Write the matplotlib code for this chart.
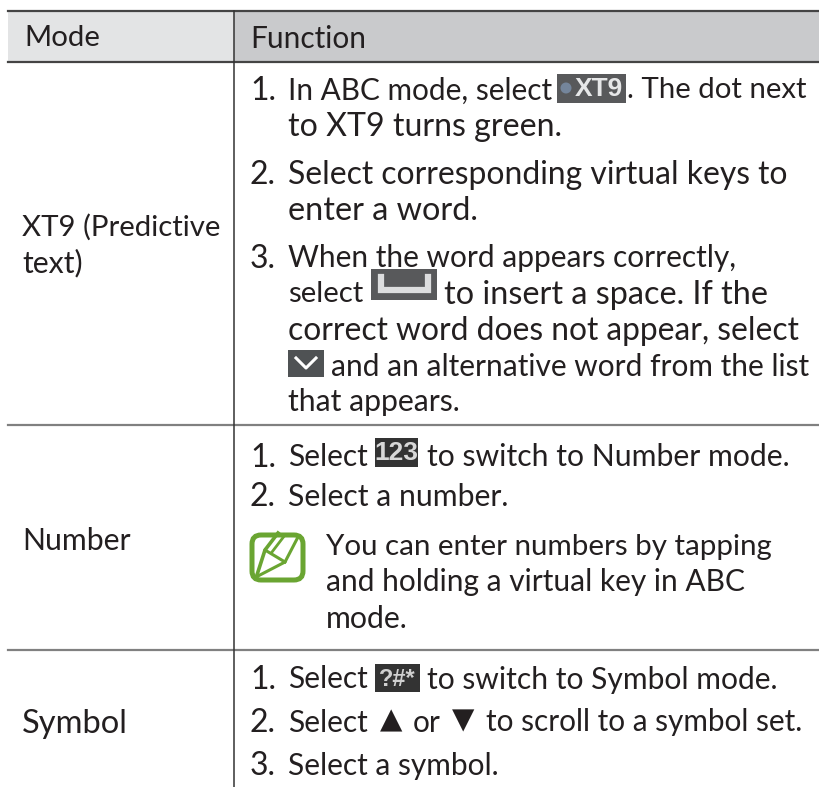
import matplotlib
matplotlib.use('Agg')
import matplotlib.pyplot as plt
from matplotlib.patches import Rectangle, FancyBboxPatch

headers = ['Mode', 'Function']
modes = ['XT9 (Predictive', 'text)', 'Number', 'Symbol']
xt9_lines = ['In ABC mode, select', '. The dot next', 'to XT9 turns green.',
             'Select corresponding virtual keys to', 'enter a word.',
             'When the word appears correctly,', 'select', 'to insert a space. If the',
             'correct word does not appear, select', 'and an alternative word from the list',
             'that appears.']
number_lines = ['Select', 'to switch to Number mode.', 'Select a number.']
note_lines = ['You can enter numbers by tapping', 'and holding a virtual key in ABC', 'mode.']
symbol_lines = ['Select', 'to switch to Symbol mode.', 'Select', 'or', 'to scroll to a symbol set.', 'Select a symbol.']

FONT = 'Lato'
SIZE = 23
INK = '#231f20'
GREEN = '#6aa532'

fig = plt.figure(figsize=(8.2, 7.87), dpi=100)
ax = fig.add_axes([0, 0, 1, 1])
ax.set_xlim(0, 820)
ax.set_ylim(787, 0)
ax.axis('off')
renderer = fig.canvas.get_renderer()


def txt(x, y, s, right=None):
    # right = where the line ends in the reference, size is nudged a little to fit it
    t = ax.text(x, y, s, family=FONT, fontsize=SIZE, color=INK, va='center_baseline')
    if right is not None:
        w = t.get_window_extent(renderer).width
        t.set_fontsize(SIZE * min(1.02, max(0.92, (right - x) / w)))
    return t


def key(x0, y0, x1, y1, color, label=None, fc='white', fs=15, cx=None):
    ax.add_patch(Rectangle((x0, y0), x1 - x0, y1 - y0, fc=color, ec='none', zorder=2))
    if label:
        if cx is None:
            cx = (x0 + x1) / 2
        ax.text(cx, (y0 + y1) / 2 + 1, label, color=fc, fontsize=fs, fontweight='bold',
                family='Liberation Sans', ha='center', va='center', zorder=3)


# header band and rules
ax.add_patch(Rectangle((8, 11), 226, 51, fc='#e3e4e5', ec='none'))
ax.add_patch(Rectangle((234, 11), 586, 51, fc='#c9cacc', ec='none'))
ax.plot([8, 820], [11, 11], color='#444444', lw=1.6)
ax.plot([8, 820], [62, 62], color='#444444', lw=1.6)
ax.plot([8, 820], [425, 425], color='#808080', lw=1.6)
ax.plot([8, 820], [650, 650], color='#808080', lw=1.6)
ax.plot([234, 234], [11, 787], color='#333333', lw=1.1)

txt(24, 36, headers[0], 100)
txt(250, 36, headers[1], 366)

# first column
txt(22, 225, modes[0], 217)
txt(22, 261, modes[1], 83)
txt(22, 538, modes[2], 131)
txt(22, 721, modes[3], 131)

# XT9 row
txt(250, 88, '1.')
txt(288, 88, xt9_lines[0], 552)
key(557, 74, 626, 103, '#58595b', 'XT9', '#e6e7e8', 19, cx=599)
ax.add_patch(plt.Circle((566, 88), 5.5, fc='#74859b', ec='none', zorder=3))
txt(627, 88, xt9_lines[1], 805)
txt(288, 124, xt9_lines[2], 563)
txt(250, 172, '2.')
txt(288, 172, xt9_lines[3], 790)
txt(288, 208, xt9_lines[4], 478)
txt(250, 256, '3.')
txt(288, 256, xt9_lines[5], 737)
txt(288, 292, xt9_lines[6], 362)
key(371, 269, 437, 300, '#58595b')
ax.plot([381, 381, 428, 428], [277, 290, 290, 277], color='#dcddde', lw=4.5, solid_joinstyle='miter', zorder=3)
txt(444, 292, xt9_lines[7], 769)
txt(288, 328, xt9_lines[8], 799)
key(288, 350, 324, 377, '#4f5254')
ax.plot([296, 306, 316], [358, 368, 358], color='white', lw=2.2, zorder=3)
txt(331, 364, xt9_lines[9], 809)
txt(288, 400, xt9_lines[10], 460)

# Number row
txt(250, 455, '1.')
txt(288, 455, number_lines[0], 368)
key(375, 438, 418, 467, '#333333', '123', '#d8d8d8', 19)
txt(427, 455, number_lines[1], 791)
txt(250, 494, '2.')
txt(288, 494, number_lines[2], 509)

# note icon
ax.add_patch(FancyBboxPatch((252, 535), 51, 45, boxstyle='round,pad=0,rounding_size=9',
                            fc='white', ec=GREEN, lw=3.6))
ax.plot([256, 265, 278], [578, 550, 533], color=GREEN, lw=2.6, zorder=3)
ax.plot([258, 285, 298], [576, 562, 537], color=GREEN, lw=2.2, zorder=3)
ax.plot([265, 285], [550, 562], color=GREEN, lw=2.2, zorder=3)
ax.plot([272, 285], [552, 535], color=GREEN, lw=2, zorder=3)

txt(326, 544, note_lines[0], 772)
txt(326, 580, note_lines[1], 745)
txt(326, 616, note_lines[2], 408)

# Symbol row
txt(250, 677, '1.')
txt(288, 677, symbol_lines[0], 368)
key(375, 664, 420, 692, '#333333', '?#*', '#d0d0d0', 17)
txt(427, 677, symbol_lines[1], 779)
txt(250, 720, '2.')
txt(288, 720, symbol_lines[2], 368)
ax.text(391, 720, '▲', family='DejaVu Sans', fontsize=21, color=INK, ha='center', va='center')
txt(413, 720, symbol_lines[3], 441)
ax.text(463, 720, '▼', family='DejaVu Sans', fontsize=21, color=INK, ha='center', va='center')
txt(486, 720, symbol_lines[4], 803)
txt(250, 763, '3.')
txt(288, 763, symbol_lines[5], 499)

fig.savefig('out.png', dpi=100)
